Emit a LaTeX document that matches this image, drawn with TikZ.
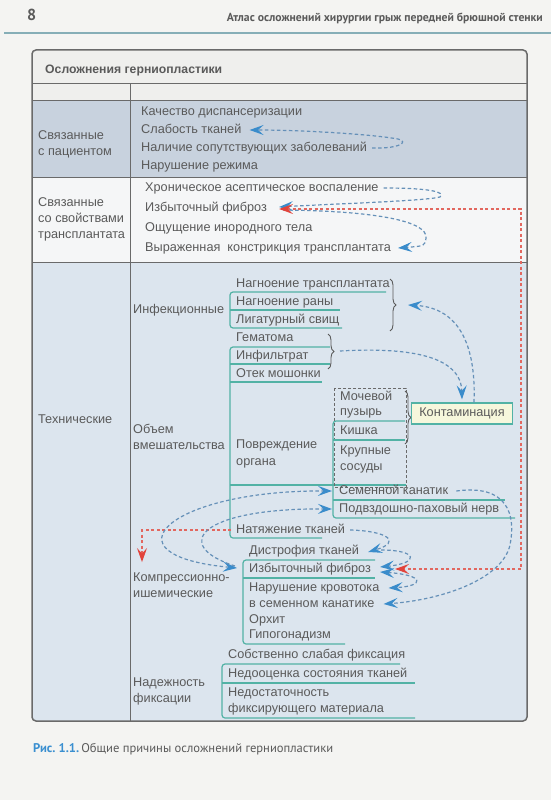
\documentclass[tikz,border=0pt]{standalone}
\usepackage{fontspec}
\usepackage{graphicx}
\setmainfont{Liberation Sans}
\newfontfamily\ptsans{PT Sans}
\usetikzlibrary{arrows.meta,decorations.pathreplacing,calc}
\definecolor{pagebg}{HTML}{F4F4F2}
\definecolor{txtc}{HTML}{5A5A5A}
\definecolor{bordc}{HTML}{6A6A6A}
\definecolor{rowa}{HTML}{C8D2DE}
\definecolor{rowb}{HTML}{F5F6F7}
\definecolor{rowc}{HTML}{DCE5EE}
\definecolor{hdrrow}{HTML}{EFEFED}
\definecolor{tealc}{HTML}{52B2A5}
\definecolor{bluedash}{HTML}{6590B8}
\definecolor{bluehd}{HTML}{3A8CCB}
\definecolor{reddash}{HTML}{E2675F}
\definecolor{redhd}{HTML}{E2443C}
\definecolor{kontfill}{HTML}{F6F7DC}
\definecolor{capblue}{HTML}{3A8FD0}
\definecolor{headln}{HTML}{86AEB7}
\tikzset{
  bhead/.tip={Stealth[length=14pt,width=10pt,inset=5.5pt,color=bluehd]},
  rhead/.tip={Stealth[length=14pt,width=10pt,inset=5.5pt,color=redhd]},
  txt/.style={anchor=west, inner sep=0pt, text height=9pt, text depth=2.5pt, text=txtc, font=\fontsize{12.7}{14}\selectfont},
  tline/.style={draw=tealc, line width=1.2pt, rounded corners=3pt},
  bd/.style={draw=bluedash, line width=1.2pt, dash pattern=on 3.5pt off 2.5pt, -{bhead}},
  rd/.style={draw=reddash, line width=1.1pt, dash pattern=on 3pt off 2.5pt, -{rhead}},
  brc/.style={draw=txtc, line width=0.9pt, decorate, decoration={brace, amplitude=6pt}},
  gbox/.style={draw=bordc, line width=1pt, dash pattern=on 3pt off 2pt}
}
\begin{document}
\begin{tikzpicture}[x=1pt,y=-1pt]
\fill[pagebg] (0,0) rectangle (551,800);
\useasboundingbox (0,0) rectangle (551,800);
% page header
\node[anchor=base west, inner sep=0pt, text=txtc, font=\ptsans\bfseries\fontsize{16}{16}\selectfont] (pgno) at (27,21) {8};
\node[anchor=base east, inner sep=0pt, text=txtc] (hdr) at (543,22) {\resizebox{316pt}{!}{\ptsans\bfseries Атлас осложнений хирургии грыж передней брюшной стенки}};
\draw[headln, line width=1.2pt] (4,33) -- (551,33);
% table
\begin{scope}
\clip[rounded corners=4pt] (32,50) rectangle (527,721);
\fill[hdrrow] (32,50) rectangle (527,100);
\fill[rowa] (32,100) rectangle (527,177);
\fill[rowb] (32,177) rectangle (527,262);
\fill[rowc] (32,262) rectangle (527,721);
\end{scope}
\draw[bordc, line width=1pt] (32,83) -- (527,83) (32,100) -- (527,100) (32,177) -- (527,177) (32,262) -- (527,262) (130,83) -- (130,721);
\draw[bordc, line width=1.5pt, rounded corners=4pt] (32,50) rectangle (527,721);
\node[anchor=base west, inner sep=0pt, text=txtc] (title) at (45,74) {\resizebox{177pt}{!}{\bfseries Осложнения герниопластики}};
% row 1
\node[txt] (lpA1) at (38,136) {Связанные};
\node[txt] (lpA2) at (38,152) {с пациентом};
\node[txt] (kach) at (141,112) {Качество диспансеризации};
\node[txt] (slab) at (141,130) {Слабость тканей};
\node[txt] (nal) at (141,148) {Наличие сопутствующих заболеваний};
\node[txt] (narr) at (141,166) {Нарушение режима};
% row 2
\node[txt] (lpB1) at (38,203) {Связанные};
\node[txt] (lpB2) at (38,219) {со свойствами};
\node[txt] (lpB3) at (38,235) {трансплантата};
\node[txt] (chron) at (145,188) {Хроническое асептическое воспаление};
\node[txt] (fibA) at (145,208) {Избыточный фиброз};
\node[txt] (oshch) at (145,228) {Ощущение инородного тела};
\node[txt] (vyr) at (145,248) {Выраженная\ \ констрикция трансплантата};
% row 3
\node[txt] (ltech) at (38,420) {Технические};
\node[txt] (cinf) at (133,310) {Инфекционные};
\node[txt] (cob1) at (133,430) {Объем};
\node[txt] (cob2) at (133,446) {вмешательства};
\node[txt] (ckom1) at (133,578) {Компрессионно-};
\node[txt] (ckom2) at (133,594) {ишемические};
\node[txt] (cnad1) at (133,683) {Надежность};
\node[txt] (cnad2) at (133,699) {фиксации};
% infection
\node[txt] (inf1) at (236,284) {Нагноение трансплантата};
\node[txt] (inf2) at (236,302) {Нагноение раны};
\node[txt] (inf3) at (236,320) {Лигатурный свищ};
\draw[tline] (386,292) -- (230,292) -- (230,328) -- (342,328);
\draw[tline] (230,310) -- (340,310);
\draw[brc] (390,279) -- (390,331);
\coordinate (inftip) at (398,305);
% volume
\node[txt] (hem1) at (236,338) {Гематома};
\node[txt] (hem2) at (236,356) {Инфильтрат};
\node[txt] (hem3) at (236,374) {Отек мошонки};
\draw[brc] (328,334) -- (328,369);
\coordinate (hemtip) at (335,351);
\node[txt] (pov1) at (236,445) {Повреждение};
\node[txt] (pov2) at (236,462) {органа};
\node[txt] (nat) at (236,530) {Натяжение тканей};
\draw[tline] (330,347) -- (230,347) -- (230,538) -- (322,538);
\draw[tline] (230,364) -- (330,364) (230,382) -- (322,382) (230,485) -- (406,485);
% organ
\draw[gbox] (334,388) rectangle (406,487);
\node[txt] (mp1) at (340,397) {Мочевой};
\node[txt] (mp2) at (340,412) {пузырь};
\node[txt] (kish) at (340,431) {Кишка};
\node[txt] (kr1) at (340,451) {Крупные};
\node[txt] (kr2) at (340,467) {сосуды};
\node[txt] (sem) at (339,491) {Семенной канатик};
\node[txt] (podv) at (339,509) {Подвздошно-паховый нерв};
\draw[tline] (405,421) -- (333,421) -- (333,518) -- (515,518);
\draw[tline] (333,440) -- (405,440) (333,500) -- (505,500);
\draw[brc] (405,391) -- (405,444);
\node[draw=tealc, fill=kontfill, line width=1.2pt, minimum width=101pt, minimum height=21pt, inner sep=0pt, text=txtc, font=\fontsize{12.7}{14}\selectfont] (kont) at (462,413.5) {Контаминация};
% compression
\node[txt] (dis) at (249,551) {Дистрофия тканей};
\node[txt] (fibB) at (249,569) {Избыточный фиброз};
\node[txt] (nar) at (249,588) {Нарушение кровотока};
\node[txt] (vsem) at (249,604) {в семенном канатике};
\node[txt] (orh) at (249,620) {Орхит};
\node[txt] (gip) at (249,635) {Гипогонадизм};
\draw[tline] (375,560) -- (243,560) -- (243,644) -- (345,644);
\draw[tline] (243,578) -- (375,578);
% fixation
\node[txt] (fx1) at (228,655) {Собственно слабая фиксация};
\node[txt] (fx2) at (228,674) {Недооценка состояния тканей};
\node[txt] (fx3a) at (228,693) {Недостаточность};
\node[txt] (fx3b) at (228,709) {фиксирующего материала};
\draw[tline] (400,664) -- (222,664) -- (222,718) -- (415,718);
\draw[tline] (222,683) -- (415,683);
% dashed connectors
\coordinate (redx) at (521,400);
\draw[bd] ([xshift=5pt]nal.east) .. controls (398,149) and (410,142) .. (398,139) .. controls (370,134) and (300,130) .. ([xshift=8pt]slab.east);
\draw[bd] ([xshift=5pt]chron.east) .. controls (430,188) and (446,192) .. (440,197) .. controls (425,201) and (330,204) .. ([xshift=12pt,yshift=1pt]fibA.east);
\draw[bd] ([xshift=16pt,yshift=-2pt]fibA.east) .. controls (380,211) and (428,222) .. (426,238) .. controls (425,246) .. ([xshift=7pt]vyr.east);
\draw[rd, {rhead}-{rhead}] ([xshift=12pt,yshift=-1pt]fibA.east) -- ([yshift=-1pt]fibA.east -| redx) -- (fibB.east -| redx) -- ([xshift=24pt]fibB.east);
\draw[rd] ([xshift=-5pt]nat.west) -| ([xshift=9pt,yshift=10pt]ckom1.north west);
\draw[bd] ([xshift=12pt]kont.north) .. controls (476,350) and (462,308) .. ([xshift=10pt]inftip);
\draw[bd] ([xshift=5pt]hemtip) .. controls (410,347) and (461,356) .. ([yshift=3pt]kont.north);
\draw[bd] ([xshift=8pt]sem.east) .. controls (508,484) and (516,515) .. (510,545) .. controls (502,580) and (440,600) .. ([xshift=9pt]vsem.east);
\draw[bd] ([xshift=5pt]nat.east) .. controls (388,531) and (402,542) .. ([xshift=9pt,yshift=-1pt]dis.east);
\draw[bd] ([xshift=22pt,yshift=1pt]dis.east) .. controls (418,550) and (420,563) .. ([xshift=9pt,yshift=2pt]fibB.east);
\draw[bd, {bhead}-{bhead}] ([xshift=9pt,yshift=-3pt]fibB.east) .. controls (425,575) and (425,586) .. ([xshift=9pt]nar.east);
\draw[bd, {bhead}-{bhead}] ([xshift=-12pt,yshift=1pt]fibB.west) .. controls (100,555) and (170,490) .. ([xshift=-7pt]sem.west);
\draw[bd] ([xshift=-14pt,yshift=3pt]fibB.west) .. controls (170,545) and (200,508) .. ([xshift=-7pt]podv.west);
% caption
\node[anchor=base west, inner sep=0pt] (cap) at (33,752) {\resizebox{300pt}{!}{\ptsans{\color{capblue}\bfseries Рис.~1.1.}\,{\color{txtc}Общие причины осложнений герниопластики}}};
\end{tikzpicture}
\end{document}
